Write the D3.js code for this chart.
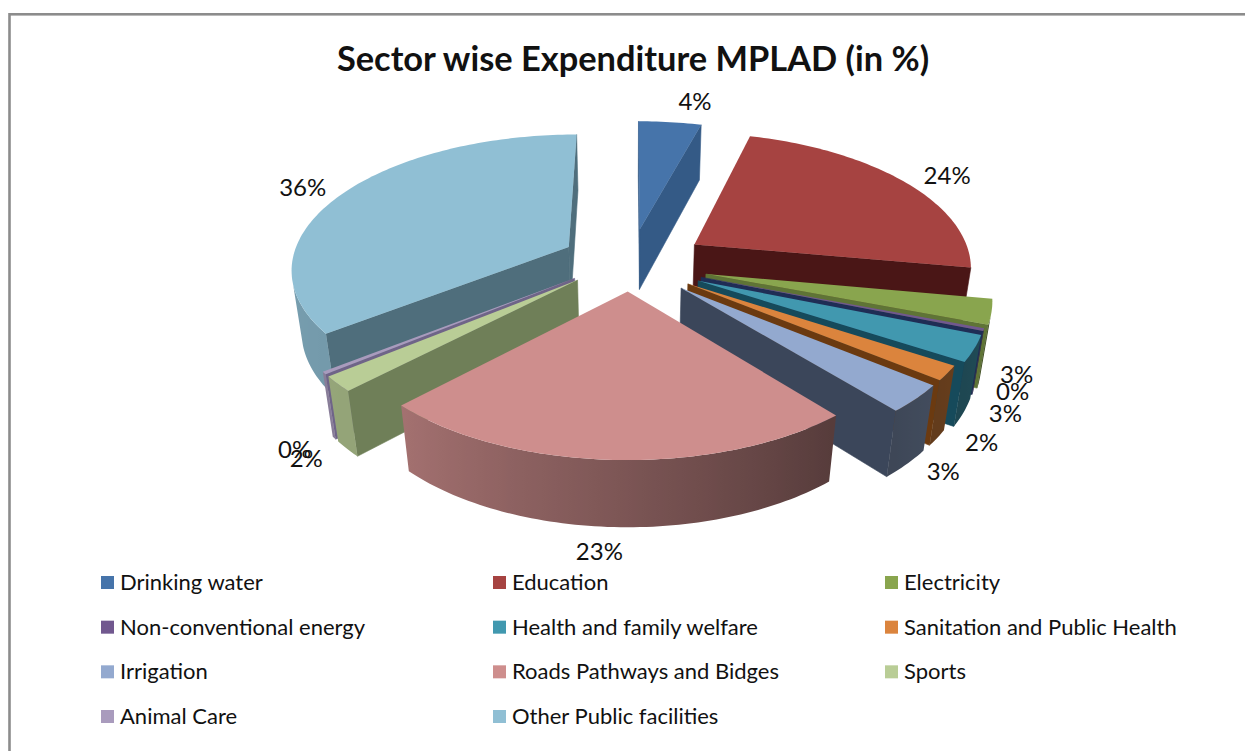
<!doctype html>
<html>
<head>
	<script src="https://d3js.org/d3.v7.min.js"></script>
	<style>
		html, body { margin: 0; background: #fff; }
		text { font-family: Lato, "Open Sans", sans-serif; fill: #111; }
	</style>
</head>
<body>
	<div id="chart"></div>
	<script>
		// chart values
		var categories = ["Drinking water", "Education", "Electricity", "Non-conventional energy",
			"Health and family welfare", "Sanitation and Public Health", "Irrigation",
			"Roads Pathways and Bidges", "Sports", "Animal Care", "Other Public facilities"];
		var shares = [4.3, 23.5, 2.9, 0.3, 3.0, 1.7, 3.2, 23.49, 1.8, 0.3, 35.5];

		// colours: top face and cut face of each slice
		var topColors = ["#4674aa", "#a64341", "#89a54e", "#71588f", "#4198af", "#db843d", "#93a9cf", "#ce8e8d", "#b9cd96", "#a99bbd", "#90bfd4"];
		var cutColors = ["#345a86", "#4a1616", "#5f7436", "#1f2d55", "#164a5b", "#6b3a10", "#3b465a", "#7a5251", "#6f7f58", "#6f6488", "#4f6e7c"];

		// how far each slice is pulled out (lift moves it back, away from the viewer),
		// and where its label sits from the rim
		var explode = [0.27, 0.28, 0.28, 0.27, 0.27, 0.25, 0.25, 0.2, 0.25, 0.25, 0.25];
		var lift = [0, 0, 0, 0, 0, 0, 0, 0, 0.05, 0.05, 0.02];
		var labelOffsets = [[25, -21], [44, -6], [25, 63], [29, 62], [31, 65], [34, 69], [27, 73], [-14, 92], [-29, 66], [-27, 68], [-39, -8]];

		var width = 1245, height = 751;
		var svg = d3.select("#chart").append("svg")
			.attr("width", width)
			.attr("height", height)
			.style("display", "block");

		// outer frame
		svg.append("rect")
			.attr("x", 9.5).attr("y", 14.3)
			.attr("width", 1240).attr("height", 760)
			.attr("fill", "none")
			.attr("stroke", "#8c8c8c")
			.attr("stroke-width", 2.6);

		svg.append("text")
			.attr("x", 633).attr("y", 71)
			.attr("text-anchor", "middle")
			.style("font-size", "34.4px")
			.style("font-weight", "bold")
			.text("Sector wise Expenditure MPLAD (in %)");

		// perspective of the tilted pie
		var cx = 630, cy = 264, kx = 278, ky = 134, persp = 0.15, depth = 63, depthPersp = 0.03;
		function project(px, py, bottom) {
			var w = 1 - persp * py + (bottom ? depthPersp : 0);
			return [cx + kx * px / w, cy + (ky * py + (bottom ? depth : 0)) / w];
		}

		var pie = d3.pie().sort(null);
		var arcs = pie(shares);

		// wall brightness by the angle round the pie
		var wallShade = d3.scaleLinear()
			.domain([90, 141, 180, 225, 280])
			.range([0.55, 0.42, 0.6, 0.8, 0.85])
			.clamp(true);

		var line = d3.line();
		var defs = svg.append("defs");
		var chartG = svg.append("g");

		// far slices first
		var order = d3.range(arcs.length).sort(function(a, b) {
			var ma = (arcs[a].startAngle + arcs[a].endAngle) / 2, mb = (arcs[b].startAngle + arcs[b].endAngle) / 2;
			return Math.cos(mb) - Math.cos(ma);
		});

		order.forEach(function(i) {
			var a = arcs[i];
			var mid = (a.startAngle + a.endAngle) / 2;
			var ox = explode[i] * Math.sin(mid), oy = -explode[i] * Math.cos(mid) - lift[i];
			var n = Math.max(2, Math.ceil((a.endAngle - a.startAngle) / 0.02));
			var angles = d3.range(n + 1).map(function(j) { return a.startAngle + (a.endAngle - a.startAngle) * j / n; });
			var rim = angles.map(function(t) { return [ox + Math.sin(t), oy - Math.cos(t)]; });
			var g = chartG.append("g");

			function face(points, fill) {
				// only faces turned to the viewer
				if (d3.polygonArea(points) <= 0) return;
				g.append("path").attr("d", line(points) + "Z").attr("fill", fill).attr("stroke", fill).attr("stroke-width", 0.6);
			}

			var apexT = project(ox, oy, false), apexB = project(ox, oy, true);
			var s = rim[0], e = rim[n];
			face([apexT, project(s[0], s[1], false), project(s[0], s[1], true), apexB], cutColors[i]);
			face([apexT, apexB, project(e[0], e[1], true), project(e[0], e[1], false)], cutColors[i]);

			// outer wall: keep the steps that face the viewer, shade along x with a gradient
			var vis = d3.range(n + 1).filter(function(j) {
				var j0 = Math.min(j, n - 1), p = rim[j0], q = rim[j0 + 1];
				return d3.polygonArea([project(q[0], q[1], false), project(q[0], q[1], true), project(p[0], p[1], true), project(p[0], p[1], false)]) > 0;
			});
			if (vis.length > 1) {
				var tops = vis.map(function(j) { return project(rim[j][0], rim[j][1], false); });
				var bottoms = vis.map(function(j) { return project(rim[j][0], rim[j][1], true); }).reverse();
				var x0 = tops[0][0], x1 = tops[tops.length - 1][0];
				var base = d3.rgb(topColors[i]);
				var grad = defs.append("linearGradient")
					.attr("id", "wall" + i)
					.attr("gradientUnits", "userSpaceOnUse")
					.attr("x1", x0).attr("x2", x1).attr("y1", 0).attr("y2", 0);
				vis.forEach(function(j, k) {
					var f = wallShade(angles[j] * 180 / Math.PI);
					grad.append("stop")
						.attr("offset", x1 === x0 ? 0 : Math.max(0, Math.min(1, (tops[k][0] - x0) / (x1 - x0))))
						.attr("stop-color", d3.rgb(base.r * f, base.g * f, base.b * f).formatHex());
				});
				g.append("path")
					.attr("d", line(tops.concat(bottoms)) + "Z")
					.attr("fill", "url(#wall" + i + ")");
			}

			// top face
			var top = [apexT].concat(rim.map(function(p) { return project(p[0], p[1], false); }));
			g.append("path").attr("d", line(top) + "Z").attr("fill", topColors[i]);
		});

		// value labels
		svg.append("g").selectAll("text")
			.data(arcs)
			.enter()
			.append("text")
			.attr("text-anchor", "middle")
			.style("font-size", "24px")
			.attr("transform", function(d, i) {
				var mid = (d.startAngle + d.endAngle) / 2;
				var r = 1 + explode[i];
				var p = project(r * Math.sin(mid), -r * Math.cos(mid), false);
				return "translate(" + (p[0] + labelOffsets[i][0]) + "," + (p[1] + labelOffsets[i][1] + 8.5) + ")";
			})
			.text(function(d) { return Math.round(d.value) + "%"; });

		// legend, three columns
		var legendCol = d3.scaleOrdinal().domain([0, 1, 2]).range([101, 493, 885]);
		var legendRow = d3.scaleLinear().domain([0, 3]).range([583, 717]);
		var legend = svg.append("g").selectAll("g")
			.data(categories)
			.enter()
			.append("g")
			.attr("transform", function(d, i) { return "translate(" + legendCol(i % 3) + "," + legendRow(Math.floor(i / 3)) + ")"; });
		legend.append("rect")
			.attr("y", -7).attr("width", 13).attr("height", 13)
			.attr("fill", function(d, i) { return topColors[i]; });
		legend.append("text")
			.attr("x", 19).attr("y", 7)
			.style("font-size", "22px")
			.text(function(d) { return d; });
	</script>
</body>
</html>
